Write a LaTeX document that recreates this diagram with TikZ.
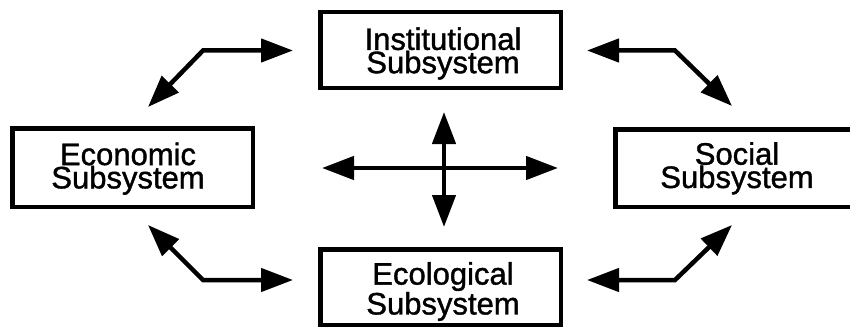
\documentclass[tikz,border=0pt]{standalone}
\usepackage{fontspec}
\setmainfont{Liberation Sans}
\newfontfamily\boxfont[FakeBold=1.2]{Liberation Sans}
\usetikzlibrary{arrows.meta}

\tikzset{
  subsys/.style={draw=black, line width=4.5pt, fill=white, inner sep=0pt,
                 minimum width=240.5pt},
  lbl/.style={inner sep=0pt, align=center,
              font=\boxfont\fontsize{31}{23.3}\selectfont},
  link/.style={line width=4.5pt, line join=miter,
               {Triangle[length=32pt,width=23pt]}-{Triangle[length=32pt,width=23pt]}}
}

\begin{document}
\begin{tikzpicture}[x=1pt,y=-1pt]
  \useasboundingbox (0,0) rectangle (850,329);
  \clip (0,0) rectangle (850,329);

  % the four subsystem boxes
  \node[subsys, minimum height=75.5pt] (inst) at (440.5,50) {};
  \node[subsys, minimum height=78.5pt] (econ) at (132.5,167.5) {};
  \node[subsys, minimum height=77.5pt] (soc)  at (735.5,168) {};
  \node[subsys, minimum height=75.5pt] (ecol) at (440.5,287) {};

  % their labels
  \node[lbl] (instT) at (443,53.5)  {Institutional\\Subsystem};
  \node[lbl] (econT) at (128,168.7) {Economic\\Subsystem};
  \node[lbl] (socT)  at (737,168.3) {Social\\Subsystem};
  \node[lbl] (ecolT) at (443,291.5) {Ecological\\Subsystem};

  % end points and bends of the elbow links
  \coordinate (tlA) at (148,107);
  \coordinate (tlB) at (203,50.5);
  \coordinate (tlC) at (293,50.5);
  \coordinate (trA) at (587,50.5);
  \coordinate (trB) at (675,50.5);
  \coordinate (trC) at (732,106);
  \coordinate (blA) at (148,225);
  \coordinate (blB) at (203,280);
  \coordinate (blC) at (293,280);
  \coordinate (brA) at (587,280);
  \coordinate (brB) at (675,280);
  \coordinate (brC) at (732,225);

  \draw[link] (tlA) -- (tlB) -- (tlC);
  \draw[link] (trA) -- (trB) -- (trC);
  \draw[link] (blA) -- (blB) -- (blC);
  \draw[link] (brA) -- (brB) -- (brC);

  % central cross
  \coordinate (cW) at (322,168);
  \coordinate (cE) at (558,168);
  \coordinate (cN) at (444,112);
  \coordinate (cS) at (444,227);
  \draw[link] (cW) -- (cE);
  \draw[link] (cN) -- (cS);
\end{tikzpicture}
\end{document}
